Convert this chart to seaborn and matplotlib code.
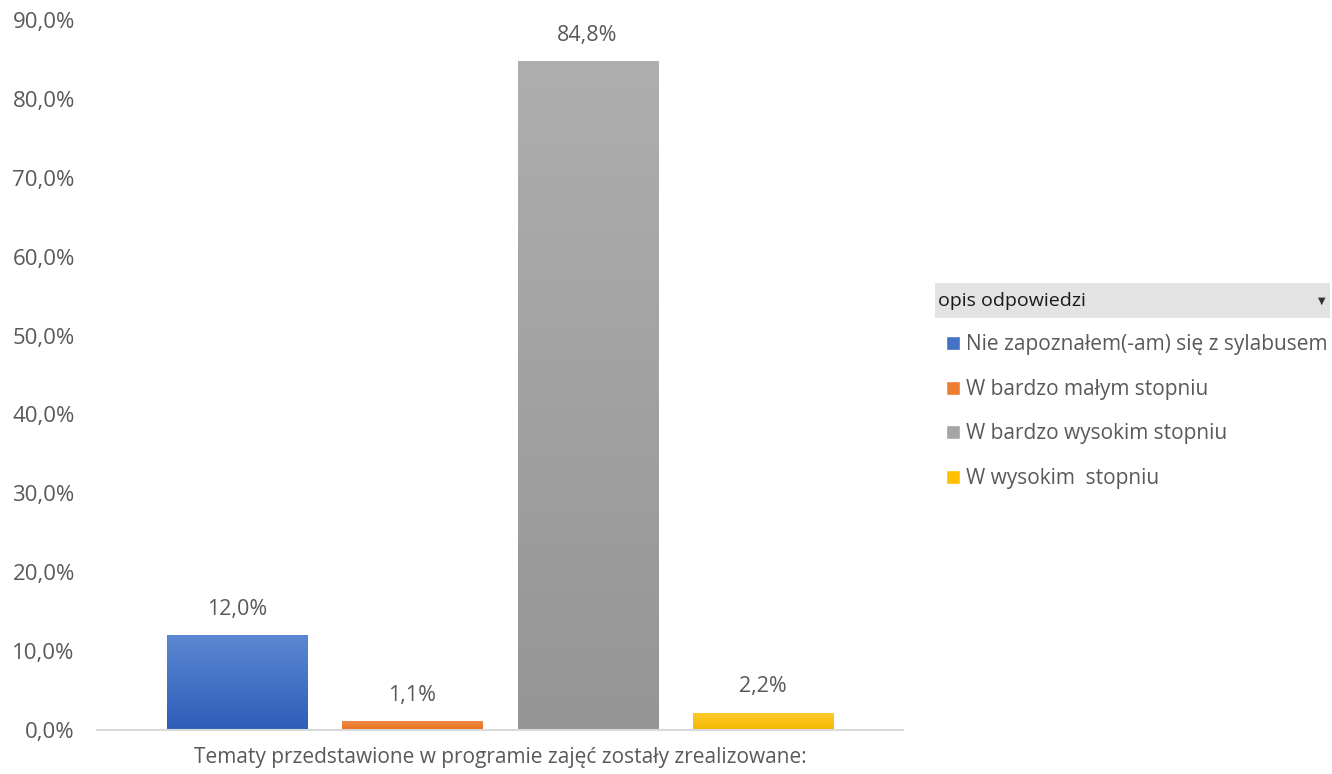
import matplotlib

matplotlib.use("Agg")

import matplotlib.pyplot as plt
import numpy as np
import pandas as pd
import seaborn as sns
from matplotlib.colors import LinearSegmentedColormap
from matplotlib.patches import Rectangle

responses = [
    "Nie zapoznałem(-am) się z sylabusem",
    "W bardzo małym stopniu",
    "W bardzo wysokim stopniu",
    "W wysokim  stopniu",
]
shares = [12.0, 1.1, 84.8, 2.2]
colors = ["#4472C4", "#ED7D31", "#A5A5A5", "#FFC000"]
tops = ["#5B87D2", "#F08A45", "#AEAEAE", "#FFCB2E"]
bottoms = ["#2E5DB8", "#E66E1C", "#959595", "#F5B800"]
yticks = [0, 10, 20, 30, 40, 50, 60, 70, 80, 90]
question = "Tematy przedstawione w programie zajęć zostały zrealizowane:"
legend_title = "opis odpowiedzi"

frame = pd.DataFrame({"odp": responses, "val": shares})

sns.set_style("white")
plt.rcParams["font.family"] = ["Open Sans", "DejaVu Sans"]
text_color = "#595959"

fig = plt.figure(figsize=(13.32, 7.74), dpi=100)
ax = fig.add_axes([97 / 1332, 1 - 730 / 774, 806 / 1332, 710 / 774])

sns.barplot(data=frame, x="odp", y="val", hue="odp", palette=colors,
            width=0.8, legend=False, ax=ax, saturation=1)

# soft vertical gradient on bars
for patch, top, bot in zip(ax.patches, tops, bottoms):
    x0, y0 = patch.get_x(), patch.get_y()
    w, h = patch.get_width(), patch.get_height()
    cmap = LinearSegmentedColormap.from_list("g", [bot, top])
    grad = np.linspace(0, 1, 64).reshape(-1, 1)
    im = ax.imshow(grad, cmap=cmap, origin="lower", aspect="auto",
                   extent=(x0, x0 + w, y0, y0 + h), zorder=patch.get_zorder() + 0.1)
    im.set_clip_path(patch)

for container in ax.containers:
    ax.bar_label(container, fmt=lambda v: f"{v:.1f}%".replace(".", ","),
                 padding=11, fontsize=15.5, color=text_color)

ax.set_xlim(-0.8, 3.8)
ax.set_ylim(0, 90)
ax.set_yticks(yticks)
ax.set_yticklabels([f"{t:.1f}%".replace(".", ",") for t in yticks])
ax.tick_params(axis="y", length=0, labelsize=16, labelcolor=text_color, pad=16)
ax.set_xticks([])
ax.set_xlabel(question, fontsize=15, color=text_color, labelpad=12)
ax.set_ylabel("")
for side in ["top", "right", "left"]:
    ax.spines[side].set_visible(False)
ax.spines["bottom"].set_color("#D9D9D9")
ax.spines["bottom"].set_linewidth(1.5)

# pivot-style legend header
fig.patches.append(Rectangle((935 / 1332, 1 - 318 / 774), 395 / 1332, 35 / 774,
                             transform=fig.transFigure, facecolor="#E3E3E3",
                             edgecolor="none"))
fig.text(938 / 1332, 1 - 301 / 774, legend_title, fontsize=14, color="#1a1a1a",
         va="center", ha="left")
fig.text(1322 / 1332, 1 - 301 / 774, "▼", fontsize=7, color="#333333",
         va="center", ha="center", family="DejaVu Sans")

handles = [Rectangle((0, 0), 1, 1, facecolor=c) for c in colors]
leg = fig.legend(handles, responses, loc="upper left",
                 bbox_to_anchor=(938 / 1332, 1 - 326 / 774), frameon=False,
                 fontsize=15, handlelength=0.65, handleheight=0.65,
                 handletextpad=0.3, labelspacing=1.13, borderaxespad=0)
for t in leg.get_texts():
    t.set_color(text_color)

fig.savefig("out.png", dpi=100)
